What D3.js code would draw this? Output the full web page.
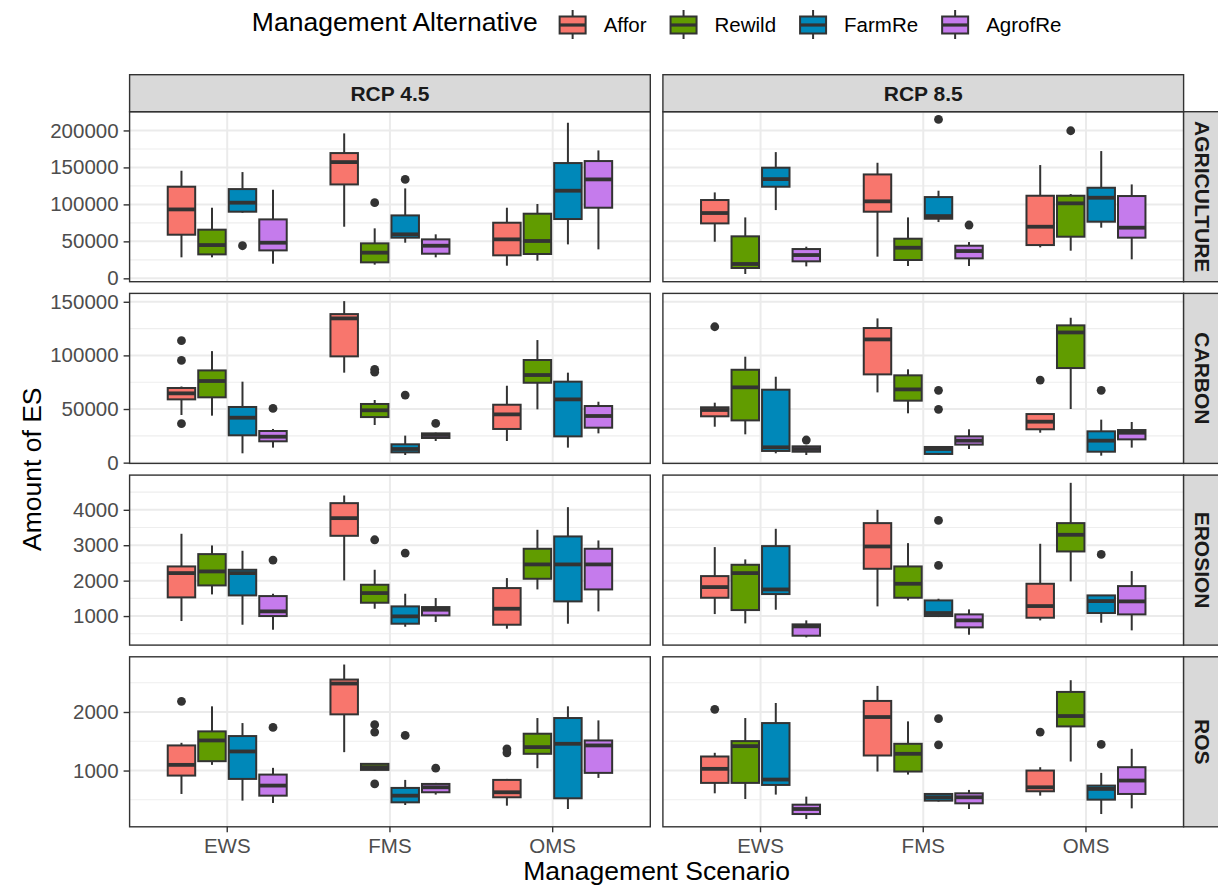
<!DOCTYPE html>
<html>
<head>
<meta charset="utf-8">
<script src="https://cdn.jsdelivr.net/npm/d3@7"></script>
<style>
  body { margin: 0; background: #fff; }
  svg { display: block; }
  text { font-family: "Liberation Sans", Arial, sans-serif; }
</style>
</head>
<body>
<svg id="chart"></svg>
<script>
// boxplots of ES amount per management scenario / alternative,
// faceted by climate scenario (columns) and service (rows)

const scenarios = ["EWS", "FMS", "OMS"];
const alternatives = ["Affor", "Rewild", "FarmRe", "AgrofRe"];
const altColors = ["#F8766D", "#619C00", "#0088B9", "#C57BEC"];
const rcps = ["RCP 4.5", "RCP 8.5"];
const services = ["AGRICULTURE", "CARBON", "EROSION", "ROS"];

// each row: [lower whisker, q1, median, q3, upper whisker, [outliers]]
// order: EWS Affor, Rewild, FarmRe, AgrofRe, then FMS ..., then OMS ...
const agri45 = [
  [28400, 59000, 93200, 123900, 145500, []],
  [28400, 32400, 45000, 65800, 95500, []],
  [88700, 90100, 102300, 120700, 143700, [44100]],
  [19800, 37800, 48200, 79700, 119800, []],
  [69800, 127000, 157200, 169400, 196000, []],
  [18500, 21600, 34700, 47300, 67600, [102300]],
  [48200, 55000, 59500, 85100, 121600, [133800]],
  [28400, 33300, 44100, 52700, 59500, []],
  [17100, 31100, 52700, 75200, 95500, []],
  [23900, 32900, 50500, 87400, 100500, []],
  [45900, 80200, 118500, 155900, 210400, []],
  [39200, 95500, 133800, 158600, 173000, []]
];
const agri85 = [
  [49500, 74300, 88300, 105900, 116200, []],
  [5900, 14000, 19400, 56800, 82400, []],
  [92300, 123900, 134200, 149600, 170700, []],
  [16200, 23000, 31500, 39600, 42800, []],
  [29300, 90100, 104100, 140500, 156300, []],
  [16700, 24800, 41400, 53600, 82400, []],
  [76100, 80600, 84200, 109900, 118500, [214900]],
  [16700, 27000, 36900, 44100, 49100, [72100]],
  [41900, 45000, 69800, 111700, 153200, []],
  [37400, 56300, 101400, 111700, 114000, [199600]],
  [68500, 76600, 109000, 122500, 172100, []],
  [25700, 55000, 68500, 111300, 127000, []]
];
const carbon45 = [
  [44400, 59000, 64600, 69600, 71000, [113700, 95300, 36300]],
  [43800, 60900, 76100, 86000, 104000, []],
  [8700, 25500, 41900, 51900, 75500, []],
  [14000, 19900, 24200, 29500, 31400, [50600]],
  [83900, 99100, 134500, 138500, 150600, []],
  [35100, 42500, 48800, 54700, 58400, [87000, 84400]],
  [7100, 9600, 12700, 17100, 25200, [63000]],
  [20200, 23000, 25800, 27300, 28000, [36600]],
  [20200, 31400, 45000, 54000, 71700, []],
  [49700, 74500, 81700, 95700, 114300, []],
  [14000, 24500, 59000, 75500, 83900, []],
  [27300, 32600, 43500, 52800, 56800, []]
];
const carbon85 = [
  [33500, 43200, 49100, 51600, 55900, [126700]],
  [26400, 39400, 70200, 86600, 98800, []],
  [8700, 10900, 14300, 68000, 80100, []],
  [7100, 10200, 12700, 15200, 15800, [21100]],
  [65500, 82300, 114900, 125500, 134500, []],
  [46000, 57800, 68300, 81400, 87000, []],
  [7100, 8100, 12700, 14600, 15500, [67400, 49700]],
  [12700, 16800, 20500, 24500, 31100, []],
  [27900, 31100, 38200, 45300, 45300, [77000]],
  [50000, 88200, 121400, 128000, 135100, []],
  [6500, 10200, 20500, 29200, 40100, [67400]],
  [14000, 21700, 27900, 30400, 37900, []]
];
const erosion45 = [
  [859, 1527, 2213, 2401, 3323, []],
  [1611, 1865, 2260, 2749, 2994, []],
  [755, 1583, 2213, 2307, 2843, []],
  [614, 1000, 1132, 1564, 1630, [2580]],
  [2006, 3266, 3765, 4188, 4404, []],
  [1207, 1376, 1649, 1884, 2307, [3154]],
  [699, 784, 991, 1273, 1630, [2777]],
  [831, 1019, 1179, 1254, 1508, []],
  [643, 755, 1207, 1790, 2072, []],
  [1752, 2053, 2458, 2900, 3436, []],
  [784, 1414, 2458, 3248, 4075, []],
  [1132, 1752, 2458, 2900, 3135, []]
];
const erosion85 = [
  [1056, 1517, 1818, 2128, 2947, []],
  [793, 1169, 2213, 2448, 2599, []],
  [1179, 1621, 1752, 2975, 3464, []],
  [398, 445, 708, 765, 878, []],
  [1273, 2335, 2965, 3624, 4000, []],
  [1442, 1517, 1912, 2401, 3059, []],
  [972, 1000, 1085, 1442, 1489, [3699, 2429]],
  [473, 680, 878, 1047, 1188, []],
  [878, 953, 1282, 1912, 3041, []],
  [1978, 2824, 3295, 3624, 4762, []],
  [812, 1085, 1423, 1583, 1583, [2740]],
  [596, 1047, 1414, 1846, 2270, []]
];
const ros45 = [
  [600, 914, 1097, 1429, 1474, [2183]],
  [1097, 1160, 1514, 1669, 2097, []],
  [486, 857, 1326, 1589, 1811, []],
  [446, 571, 743, 931, 1046, [1737]],
  [1314, 1960, 2486, 2554, 2811, []],
  [1000, 1011, 1057, 1114, 1114, [1783, 1657, 771]],
  [411, 457, 571, 703, 840, [1600]],
  [589, 629, 714, 771, 789, [1040]],
  [400, 543, 629, 840, 857, [1371, 1303]],
  [1040, 1286, 1400, 1629, 1897, []],
  [343, 526, 1457, 1897, 2097, []],
  [874, 960, 1429, 1514, 1857, []]
];
const ros85 = [
  [611, 789, 1029, 1240, 1303, [2046]],
  [514, 789, 1417, 1503, 1897, []],
  [589, 754, 846, 1811, 2154, []],
  [171, 257, 343, 417, 554, []],
  [983, 1257, 1914, 2189, 2446, []],
  [931, 983, 1286, 1457, 1840, []],
  [469, 486, 543, 600, 600, [1886, 1440]],
  [343, 440, 543, 611, 669, []],
  [571, 646, 714, 1000, 1057, [1657]],
  [1154, 1754, 1931, 2343, 2543, []],
  [257, 503, 686, 743, 960, [1446]],
  [354, 600, 829, 1057, 1371, []]
];

// y tick labels of each row
const agriTicks = [0, 50000, 100000, 150000, 200000];
const carbonTicks = [0, 50000, 100000, 150000];
const erosionTicks = [1000, 2000, 3000, 4000];
const rosTicks = [1000, 2000];

const boxRows = [[agri45, agri85], [carbon45, carbon85], [erosion45, erosion85], [ros45, ros85]];
const rowTicks = [agriTicks, carbonTicks, erosionTicks, rosTicks];

// LAYOUT
const W = 1218, H = 888;
const m = {left: 129.6, top: 111.7};
const panelW = 520.7, panelH = 170, gapX = 12.6, gapY = 11.7, stripH = 37;
const dark = "#333333";
const smallText = 20.5, bigText = 26.5;

const svg = d3.select("#chart").attr("width", W).attr("height", H);

function addText(parent, x, y, str, size, anchor, rotate) {
  return parent.append("text")
    .attr("transform", `translate(${x},${y})` + (rotate ? ` rotate(${rotate})` : ""))
    .attr("font-size", size)
    .attr("text-anchor", anchor)
    .attr("fill", "#000")
    .text(str);
}

const colX = rcps.map((r, c) => m.left + c * (panelW + gapX));
const rowY = services.map((s, r) => m.top + r * (panelH + gapY));
const bottom = rowY[3] + panelH;

// x scales: discrete with 0.6 expansion each side, boxes dodged across 0.75
const xScales = colX.map(x0 => d3.scaleBand().domain(scenarios)
  .range([x0, x0 + panelW]).paddingInner(0).paddingOuter(0.1));
const step = xScales[0].step();
const xAlt = d3.scaleBand().domain(alternatives)
  .range([-0.375 * step, 0.375 * step]).paddingInner(0.1).paddingOuter(0.05);
const color = d3.scaleOrdinal().domain(alternatives).range(altColors);

services.forEach((service, r) => {
  const all = [];
  boxRows[r].forEach(arr => arr.forEach(b => { all.push(b[0], b[4], ...b[5]); }));
  const [lo, hi] = d3.extent(all);
  const pad = (hi - lo) * 0.05;
  const y = d3.scaleLinear().domain([lo - pad, hi + pad]).range([rowY[r] + panelH, rowY[r]]);

  const ticks = rowTicks[r];
  const tStep = ticks[1] - ticks[0];
  const minor = [ticks[0] - tStep / 2, ...ticks.map(t => t + tStep / 2)]
    .filter(v => v > y.domain()[0] && v < y.domain()[1]);

  rcps.forEach((rcp, c) => {
    const x = xScales[c];
    const g = svg.append("g").attr("class", "panel");

    g.append("rect").attr("x", colX[c]).attr("y", rowY[r])
      .attr("width", panelW).attr("height", panelH).attr("fill", "#fff");

    // grid
    g.selectAll(".minor").data(minor).enter().append("line")
      .attr("x1", colX[c]).attr("x2", colX[c] + panelW)
      .attr("y1", d => y(d)).attr("y2", d => y(d))
      .attr("stroke", "#EEEEEE").attr("stroke-width", 1.1);
    g.selectAll(".major").data(ticks).enter().append("line")
      .attr("x1", colX[c]).attr("x2", colX[c] + panelW)
      .attr("y1", d => y(d)).attr("y2", d => y(d))
      .attr("stroke", "#EBEBEB").attr("stroke-width", 2);
    g.selectAll(".vmajor").data(scenarios).enter().append("line")
      .attr("x1", d => x(d) + step / 2).attr("x2", d => x(d) + step / 2)
      .attr("y1", rowY[r]).attr("y2", rowY[r] + panelH)
      .attr("stroke", "#EBEBEB").attr("stroke-width", 2);

    // boxes
    const boxes = boxRows[r][c].map((b, i) => ({
      scen: scenarios[Math.floor(i / 4)], alt: alternatives[i % 4],
      lo: b[0], q1: b[1], med: b[2], q3: b[3], hi: b[4], out: b[5]
    }));
    const bw = xAlt.bandwidth();
    const bx = d => x(d.scen) + step / 2 + xAlt(d.alt);
    const bg = g.selectAll(".box").data(boxes).enter().append("g");

    bg.append("line")
      .attr("x1", d => bx(d) + bw / 2).attr("x2", d => bx(d) + bw / 2)
      .attr("y1", d => y(d.lo)).attr("y2", d => y(d.hi))
      .attr("stroke", dark).attr("stroke-width", 2);
    bg.append("rect")
      .attr("x", d => bx(d)).attr("width", bw)
      .attr("y", d => y(d.q3)).attr("height", d => Math.max(0.5, y(d.q1) - y(d.q3)))
      .attr("fill", d => color(d.alt))
      .attr("stroke", dark).attr("stroke-width", 2);
    bg.append("line")
      .attr("x1", d => bx(d)).attr("x2", d => bx(d) + bw)
      .attr("y1", d => y(d.med)).attr("y2", d => y(d.med))
      .attr("stroke", dark).attr("stroke-width", 3.8);
    bg.selectAll("circle").data(d => d.out.map(v => ({v, d}))).enter().append("circle")
      .attr("cx", o => bx(o.d) + bw / 2).attr("cy", o => y(o.v))
      .attr("r", 4.4).attr("fill", dark);

    // panel border
    g.append("rect").attr("x", colX[c]).attr("y", rowY[r])
      .attr("width", panelW).attr("height", panelH)
      .attr("fill", "none").attr("stroke", dark).attr("stroke-width", 1.4);
  });

  // y axis
  const ax = svg.append("g").attr("transform", `translate(${m.left},0)`)
    .call(d3.axisLeft(y).tickValues(ticks).tickSize(6).tickPadding(5).tickFormat(d3.format("d")));
  ax.select(".domain").remove();
  ax.selectAll("line").attr("stroke", dark).attr("stroke-width", 1.4);
  ax.attr("font-size", smallText).attr("font-family", null);
  ax.selectAll("text").attr("fill", "#4D4D4D");

  // right strip
  const sx0 = colX[1] + panelW;
  svg.append("rect").attr("x", sx0).attr("y", rowY[r])
    .attr("width", stripH).attr("height", panelH)
    .attr("fill", "#D9D9D9").attr("stroke", dark).attr("stroke-width", 1.4);
  svg.append("text")
    .attr("transform", `translate(${sx0 + stripH / 2 - 7.5},${rowY[r] + panelH / 2}) rotate(90)`)
    .attr("text-anchor", "middle").attr("font-size", 21).attr("font-weight", "bold")
    .attr("fill", "#1A1A1A").text(service);
});

// top strips and x axes
rcps.forEach((rcp, c) => {
  svg.append("rect").attr("x", colX[c]).attr("y", m.top - stripH)
    .attr("width", panelW).attr("height", stripH)
    .attr("fill", "#D9D9D9").attr("stroke", dark).attr("stroke-width", 1.4);
  svg.append("text")
    .attr("x", colX[c] + panelW / 2).attr("y", m.top - stripH / 2 + 7.5)
    .attr("text-anchor", "middle").attr("font-size", 21).attr("font-weight", "bold")
    .attr("fill", "#1A1A1A").text(rcp);

  const ax = svg.append("g").attr("transform", `translate(0,${bottom})`)
    .call(d3.axisBottom(xScales[c]).tickSize(5.5).tickPadding(6));
  ax.select(".domain").remove();
  ax.selectAll("line").attr("stroke", dark).attr("stroke-width", 1.4);
  ax.attr("font-size", smallText).attr("font-family", null);
  ax.selectAll("text").attr("fill", "#4D4D4D");
});

// axis titles
const panelMid = m.left + (2 * panelW + gapX) / 2;
addText(svg, panelMid, 880, "Management Scenario", bigText, "middle");
addText(svg, 41, (m.top + bottom) / 2, "Amount of ES", bigText, "middle", -90);

// LEGEND
const leg = svg.append("g");
const title = addText(leg, 0, 31, "Management Alternative", bigText, "start");
let cursor = title.node().getComputedTextLength() + 22;
const keyW = 26;
alternatives.forEach(a => {
  leg.append("line")
    .attr("x1", cursor + keyW / 2).attr("x2", cursor + keyW / 2)
    .attr("y1", 10).attr("y2", 39)
    .attr("stroke", dark).attr("stroke-width", 2);
  leg.append("rect")
    .attr("x", cursor).attr("y", 16.5).attr("width", keyW).attr("height", 17)
    .attr("fill", color(a)).attr("stroke", dark).attr("stroke-width", 2);
  leg.append("line")
    .attr("x1", cursor).attr("x2", cursor + keyW)
    .attr("y1", 25).attr("y2", 25)
    .attr("stroke", dark).attr("stroke-width", 3.2);
  cursor += keyW + 18;
  const t = addText(leg, cursor, 32, a, smallText, "start");
  cursor += t.node().getComputedTextLength() + 24;
});
cursor -= 24;
leg.attr("transform", `translate(${panelMid - cursor / 2},0)`);
</script>
</body>
</html>
